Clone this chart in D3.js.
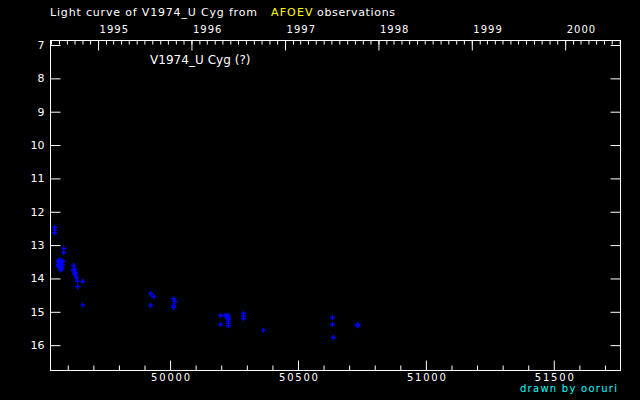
<!DOCTYPE html>
<html><head><meta charset="utf-8">
<script src="https://cdn.jsdelivr.net/npm/d3@7"></script>
<style>
html,body{margin:0;padding:0;background:#000;}
svg{display:block;}
text{font-family:"DejaVu Sans",sans-serif;fill:#fff;}
</style></head><body>
<svg id="c" width="640" height="400"></svg>
<script>
// JD - 2400000 of each observation
const jd = [49549,49549,49549,49584,49584,
  49562,49565,49568,49570,49563,49566,49572,49575,49578,49569,49573,49576,49571,49567,49574,49579,49577,49564,49580,49570,
  49623,49622,49625,49628,49630,49627,49631,49633,49638,49658,49639,49658,
  49924,49936,49924,50014,50018,50014,50014,
  50197,50197,50215,50220,50226,50228,50228,50228,50228,50228,50226,
  50287,50287,50287,50365,50635,50635,50639,50733,50733,50734];
const mag = [12.47,12.55,12.63,13.10,13.22,
  13.47,13.50,13.45,13.55,13.58,13.62,13.60,13.52,13.47,13.66,13.70,13.65,13.75,13.53,13.57,13.58,13.72,13.64,13.50,13.48,
  13.61,13.74,13.78,13.72,13.82,13.86,13.90,13.97,14.08,14.09,14.24,14.80,
  14.45,14.54,14.81,14.61,14.69,14.81,14.87,
  15.11,15.38,15.11,15.13,15.10,15.16,15.22,15.28,15.34,15.42,15.20,
  15.04,15.13,15.21,15.55,15.17,15.38,15.77,15.38,15.42,15.40];
const magTicks = [7,8,9,10,11,12,13,14,15,16];
const jdMajorTicks = [50000,50500,51000,51500];
const years = [1995,1996,1997,1998,1999,2000];
const titleParts = ["Light curve of V1974_U Cyg from", "AFOEV", "observations"];
const starLabel = "V1974_U Cyg (?)";
const credit = "drawn by ooruri";

const svg = d3.select("#c");
svg.append("rect").attr("width",640).attr("height",400).attr("fill","#000");

const L=50.5, R=620.5, T=40.5, B=370.5;
const x = d3.scaleLinear().domain([49532.5,51760.8]).range([L,R]);
const y = d3.scaleLinear().domain([6.865,16.76]).range([T,B]);

const dateToJd = d => d.getTime()/86400000 + 40587.5;

function styleAxis(g, fs){
  g.select(".domain").remove();
  g.selectAll("line").attr("stroke","#fff").attr("stroke-width",1);
  g.selectAll("text").attr("fill","#fff").attr("font-size",fs||11).attr("font-family","DejaVu Sans");
}

// bottom minor
const minorJd = d3.range(49600,51760,100).filter(v=>v%500!==0);
svg.append("g").attr("transform",`translate(0,${B})`)
  .call(d3.axisBottom(x).tickValues(minorJd).tickSize(-5).tickSizeOuter(0).tickFormat(""))
  .call(styleAxis);
// bottom major
const gb = svg.append("g").attr("transform",`translate(0,${B})`)
  .call(d3.axisBottom(x).tickValues(jdMajorTicks).tickSize(-10).tickSizeOuter(0).tickPadding(3).tickFormat(d3.format("d")))
  .call(g=>styleAxis(g,10));
gb.selectAll("text").attr("textLength",39).attr("lengthAdjust","spacing");

// top: months and years
const months = d3.timeMonth.range(new Date(Date.UTC(1994,5,1)), new Date(Date.UTC(2000,8,1)))
  .map(dateToJd).filter(v=>v>x.domain()[0] && v<x.domain()[1]);
svg.append("g").attr("transform",`translate(0,${T})`)
  .call(d3.axisTop(x).tickValues(months).tickSize(-4).tickSizeOuter(0).tickFormat(""))
  .call(styleAxis);
const yearJd = years.map(yy=>dateToJd(new Date(Date.UTC(yy,0,1))));
const gt = svg.append("g").attr("transform",`translate(0,${T})`)
  .call(d3.axisTop(x).tickValues(yearJd).tickSize(-10).tickSizeOuter(0).tickPadding(8)
    .tickFormat((d,i)=>String(years[i])))
  .call(g=>styleAxis(g,10));
gt.selectAll("text").attr("text-anchor","start").attr("dx",1)
  .attr("textLength",28.5).attr("lengthAdjust","spacing");

// left / right
svg.append("g").attr("transform",`translate(${L},0)`)
  .call(d3.axisLeft(y).tickValues(magTicks).tickSize(-10).tickSizeOuter(0).tickPadding(6).tickFormat(d3.format("d")))
  .call(g=>styleAxis(g,11));
svg.append("g").attr("transform",`translate(${R},0)`)
  .call(d3.axisRight(y).tickValues(magTicks).tickSize(-10).tickSizeOuter(0).tickFormat(""))
  .call(styleAxis);

// frame
svg.append("rect").attr("x",L).attr("y",T).attr("width",R-L).attr("height",B-T)
  .attr("fill","none").attr("stroke","#fff").attr("stroke-width",1);

// data
const pts = jd.map((j,i)=>({j, m:mag[i]}));
svg.append("g").selectAll("path").data(pts).join("path")
  .attr("transform",d=>`translate(${x(d.j)},${y(d.m)})`)
  .attr("d","M-2.5,0H2.5M0,-2.5V2.5")
  .attr("stroke","#0000ff").attr("stroke-width",1.4).attr("fill","none");

// texts
const tA = (txt, xx, len, col) => svg.append("text").attr("x",xx).attr("y",16).attr("font-size",11)
  .attr("textLength",len).attr("lengthAdjust","spacing").style("fill",col).text(txt);
tA(titleParts[0], 50, 207, "#ffffff");
tA(titleParts[1], 271, 41.5, "#ffff00");
tA(titleParts[2], 317, 78, "#ffffff");

svg.append("text").attr("x",150).attr("y",64).attr("font-size",12)
  .attr("textLength",100.5).attr("lengthAdjust","spacing").text(starLabel);
svg.append("text").attr("x",520).attr("y",392).attr("font-size",10)
  .attr("textLength",97).attr("lengthAdjust","spacing")
  .style("fill","#00ffff").text(credit);
</script>
</body></html>
